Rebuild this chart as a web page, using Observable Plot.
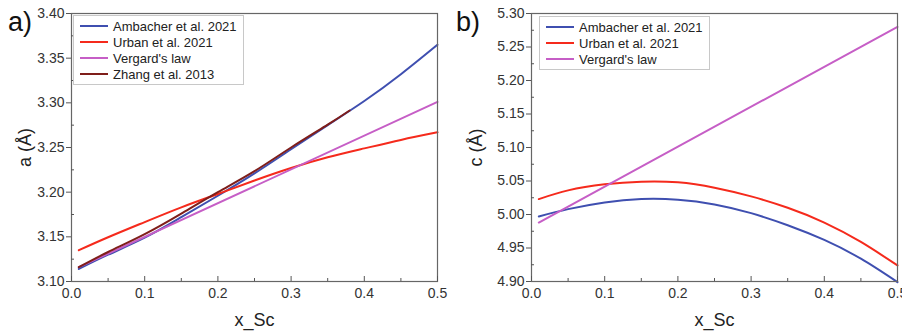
<!DOCTYPE html>
<html>
<head>
<meta charset="utf-8">
<script src="https://cdn.jsdelivr.net/npm/d3@7"></script>
<script src="https://cdn.jsdelivr.net/npm/@observablehq/plot@0.6"></script>
<style>
  body { margin: 0; background: #fff; font-family: "Liberation Sans", Arial, sans-serif; }
  #wrap { position: relative; width: 902px; height: 331px; overflow: hidden; }
  .panel { position: absolute; top: 0; width: 451px; height: 331px; }
  .tag { position: absolute; font-size: 27px; color: #111; line-height: 1; }
  .legend { position: absolute; border: 1px solid #c8c8c8; background: #fff; font-size: 13px; color: #222; padding: 2px 6px 2px 6px; }
  .row { display: flex; align-items: center; height: 16px; }
  .sw { width: 28px; height: 0; border-top: 2px solid; margin-right: 5px; }
</style>
</head>
<body>
<div id="wrap">
  <div class="panel" id="pa" style="left:0"></div>
  <div class="panel" id="pb" style="left:451px"></div>
</div>
<script>
// ---------- data ----------
const xGrid = [0.01, 0.05, 0.1, 0.15, 0.2, 0.25, 0.3, 0.35, 0.4, 0.45, 0.5];
const aAmbacher = [3.114, 3.130, 3.149, 3.172, 3.196, 3.221, 3.248, 3.275, 3.302, 3.332, 3.365];
const aUrban    = [3.135, 3.1495, 3.1665, 3.183, 3.198, 3.213, 3.227, 3.239, 3.249, 3.2585, 3.267];
const xVegard   = [0.01, 0.5];
const aVegard   = [3.116, 3.301];
const xZhang    = [0.01, 0.05, 0.1, 0.15, 0.2, 0.25, 0.3, 0.35, 0.38];
const aZhang    = [3.116, 3.133, 3.153, 3.176, 3.200, 3.2235, 3.250, 3.2755, 3.2914];

const cAmbacher = [4.997, 5.008, 5.018, 5.023, 5.022, 5.015, 5.002, 4.984, 4.962, 4.934, 4.899];
const cUrban    = [5.023, 5.036, 5.045, 5.049, 5.048, 5.040, 5.027, 5.010, 4.988, 4.959, 4.924];
const cVegard   = [4.988, 5.280];

const seriesNames = ["Ambacher et al. 2021", "Urban et al. 2021", "Vergard's law", "Zhang et al. 2013"];
const seriesColors = ["#3f4fb0", "#f52a1c", "#c65ec6", "#7f1e1a"];

const xTicks = [0, 0.1, 0.2, 0.3, 0.4, 0.5];
const xMinor = [0.05, 0.15, 0.25, 0.35, 0.45];
const aTicks = [3.10, 3.15, 3.20, 3.25, 3.30, 3.35, 3.40];
const aMinor = [3.125, 3.175, 3.225, 3.275, 3.325, 3.375];
const cTicks = [4.90, 4.95, 5.00, 5.05, 5.10, 5.15, 5.20, 5.25, 5.30];
const cMinor = [4.925, 4.975, 5.025, 5.075, 5.125, 5.175, 5.225, 5.275];

// ---------- helpers ----------
function toRows(xs, ys, name) { return xs.map((x, i) => ({x, y: ys[i], s: name})); }

function panel(el, {series, yDomain, yTicks, yMinor, yLabel, marginLeft, marginRight}) {
  const lines = series.map(({rows, color}) =>
    Plot.line(rows, {x: "x", y: "y", stroke: color, strokeWidth: 2, curve: "natural"}));
  const chart = Plot.plot({
    width: 451, height: 331,
    marginLeft, marginRight, marginTop: 13, marginBottom: 50,
    style: {fontFamily: "Liberation Sans, Arial, sans-serif", fontSize: "13px", color: "#333", background: "transparent"},
    x: {domain: [0, 0.5]},
    y: {domain: yDomain},
    marks: [
      ...lines,
      Plot.frame({stroke: "#666", strokeWidth: 1.2}),
      Plot.axisX({ticks: xTicks, tickFormat: d3.format(".1f"), tickSize: 0, tickPadding: 7, fontSize: 14, fill: "#333",
                  label: "x_Sc", labelAnchor: "center", labelArrow: "none", labelOffset: 44}),
      Plot.axisX({ticks: xTicks, tickSize: -5, text: null, label: null, stroke: "#555"}),
      Plot.axisX({ticks: xMinor, tickSize: -3, text: null, label: null, stroke: "#555"}),
      Plot.axisY({ticks: yTicks, tickFormat: d3.format(".2f"), tickSize: 5, tickPadding: 2, fontSize: 14, fill: "#333", stroke: "#555",
                  label: yLabel, labelAnchor: "center", labelArrow: "none", labelOffset: marginLeft - 18}),
      Plot.axisY({ticks: yMinor, tickSize: -3, text: null, label: null, stroke: "#555"})
    ]
  });
  chart.querySelectorAll("[aria-label='x-axis label'] text, [aria-label='y-axis label'] text").forEach(t => {
    t.setAttribute("font-size", "18"); t.style.fontSize = "18px"; t.setAttribute("fill", "#222");
  });
  el.appendChild(chart);
}

function legend(el, {left, top, names, colors}) {
  const box = document.createElement("div");
  box.className = "legend";
  box.style.left = left + "px"; box.style.top = top + "px";
  names.forEach((n, i) => {
    const r = document.createElement("div"); r.className = "row";
    const sw = document.createElement("div"); sw.className = "sw"; sw.style.borderTopColor = colors[i];
    const t = document.createElement("span"); t.textContent = n;
    r.appendChild(sw); r.appendChild(t); box.appendChild(r);
  });
  el.appendChild(box);
}

function tag(el, text, left, top) {
  const d = document.createElement("div"); d.className = "tag"; d.textContent = text;
  d.style.left = left + "px"; d.style.top = top + "px"; el.appendChild(d);
}

// ---------- panel a ----------
const pa = document.getElementById("pa");
panel(pa, {
  series: [
    {rows: toRows(xGrid, aAmbacher, seriesNames[0]), color: seriesColors[0]},
    {rows: toRows(xGrid, aUrban, seriesNames[1]), color: seriesColors[1]},
    {rows: toRows(xVegard, aVegard, seriesNames[2]), color: seriesColors[2]},
    {rows: toRows(xZhang, aZhang, seriesNames[3]), color: seriesColors[3]}
  ],
  yDomain: [3.10, 3.40], yTicks: aTicks, yMinor: aMinor, yLabel: "a (Å)",
  marginLeft: 71, marginRight: 14
});
legend(pa, {left: 73, top: 15, names: seriesNames, colors: seriesColors});
tag(pa, "a)", 8, 9);

// ---------- panel b ----------
const pb = document.getElementById("pb");
panel(pb, {
  series: [
    {rows: toRows(xGrid, cAmbacher, seriesNames[0]), color: seriesColors[0]},
    {rows: toRows(xGrid, cUrban, seriesNames[1]), color: seriesColors[1]},
    {rows: toRows(xVegard, cVegard, seriesNames[2]), color: seriesColors[2]}
  ],
  yDomain: [4.90, 5.30], yTicks: cTicks, yMinor: cMinor, yLabel: "c (Å)",
  marginLeft: 80, marginRight: 5
});
legend(pb, {left: 88, top: 16, names: seriesNames.slice(0, 3), colors: seriesColors.slice(0, 3)});
tag(pb, "b)", 5, 9);
</script>
</body>
</html>
